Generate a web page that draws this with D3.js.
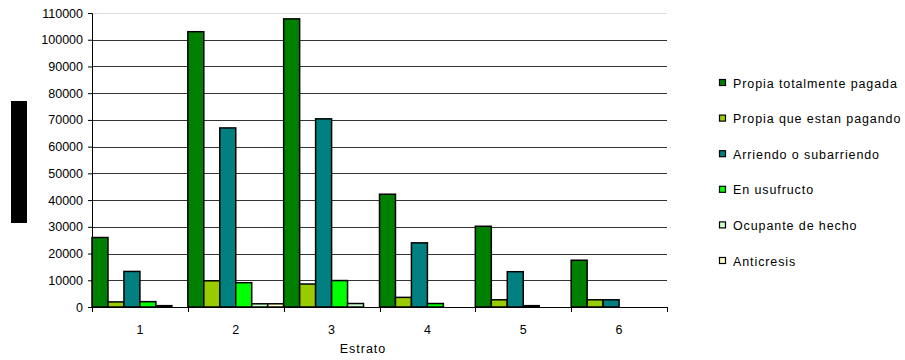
<!DOCTYPE html>
<html>
<head>
<meta charset="utf-8">
<script src="https://cdn.jsdelivr.net/npm/d3@7"></script>
<style>
  html, body { margin: 0; padding: 0; background: #fff; }
  text { font-family: "Liberation Sans", Arial, sans-serif; fill: #000; }
</style>
</head>
<body>
<svg id="chart" width="905" height="360"></svg>
<script>
// Housing tenure by socio-economic stratum
const estratos = ["1", "2", "3", "4", "5", "6"];
const seriesNames = [
  "Propia totalmente pagada",
  "Propia que estan pagando",
  "Arriendo o subarriendo",
  "En usufructo",
  "Ocupante de hecho",
  "Anticresis"
];
const propiaPagada   = [26000, 103000, 107800, 42200, 30200, 17500];
const propiaPagando  = [1900, 9800, 8600, 3600, 2700, 2700];
const arriendo       = [13300, 67000, 70400, 24000, 13200, 2700];
const usufructo      = [2000, 9100, 9900, 1300, 500, 0];
const ocupante       = [500, 1200, 1300, 0, 0, 0];
const anticresis     = [0, 1200, 0, 0, 0, 0];
const yTicks = d3.range(0, 110001, 10000);
const colors = ["#008000", "#99CC00", "#008080", "#00FF00", "#CCFFCC", "#FFFFCC"];

const seriesValues = [propiaPagada, propiaPagando, arriendo, usufructo, ocupante, anticresis];

const svg = d3.select("#chart");
const plot = { left: 92, right: 667, top: 13, bottom: 307 };

const x0 = d3.scaleBand().domain(estratos).range([plot.left, plot.right]).paddingInner(0).paddingOuter(0);
const x1 = d3.scaleBand().domain(seriesNames).range([0, x0.bandwidth()]).padding(0);
const y = d3.scaleLinear().domain([0, 110000]).range([plot.bottom, plot.top]);

// gridlines
svg.append("g").selectAll("line")
  .data(yTicks.filter(t => t > 0))
  .join("line")
  .attr("x1", plot.left).attr("x2", plot.right)
  .attr("y1", d => Math.round(y(d)) + 0.5).attr("y2", d => Math.round(y(d)) + 0.5)
  .attr("stroke", d => d === 110000 ? "#dddddd" : "#333")
  .attr("stroke-width", 1);

// bars
const groups = svg.append("g").selectAll("g")
  .data(estratos)
  .join("g")
  .attr("transform", d => `translate(${x0(d)},0)`);

groups.selectAll("rect")
  .data((d, i) => seriesNames.map((s, k) => ({ s, k, v: seriesValues[k][i] })).filter(e => e.v > 0))
  .join("rect")
  .attr("x", d => x1(d.s))
  .attr("width", x1.bandwidth())
  .attr("y", d => y(d.v))
  .attr("height", d => y(0) - y(d.v))
  .attr("fill", d => colors[d.k])
  .attr("stroke", "#000")
  .attr("stroke-width", 1.5);

// y axis
const yAxis = d3.axisLeft(y).tickValues(yTicks).tickSize(4).tickFormat(d3.format("d"));
const gy = svg.append("g").attr("transform", `translate(${plot.left},0)`).call(yAxis);
gy.select(".domain").attr("stroke", "#000");
gy.selectAll(".tick line").attr("stroke", "#000");
gy.selectAll(".tick text").attr("x", -9).style("font-size", "12.5px").style("font-family", "Liberation Sans, Arial, sans-serif").attr("fill", "#000");

// x axis with ticks on category boundaries
const gx = svg.append("g").attr("transform", `translate(0,${plot.bottom})`);
gx.append("line").attr("x1", plot.left).attr("x2", plot.right).attr("y1", 0.5).attr("y2", 0.5).attr("stroke", "#000");
gx.selectAll("line.b")
  .data(estratos.map(d => x0(d)).concat([plot.right]))
  .join("line").attr("class", "b")
  .attr("x1", d => Math.round(d) + 0.5).attr("x2", d => Math.round(d) + 0.5)
  .attr("y1", 0).attr("y2", 5).attr("stroke", "#000");
gx.selectAll("text")
  .data(estratos)
  .join("text")
  .attr("x", d => x0(d) + x0.bandwidth() / 2)
  .attr("y", 27)
  .attr("text-anchor", "middle")
  .style("font-size", "12.5px")
  .text(d => d);

svg.append("text")
  .attr("x", 363).attr("y", 353)
  .attr("text-anchor", "middle")
  .style("font-size", "12.5px")
  .style("letter-spacing", "1px")
  .text("Estrato");

// y-axis title block
svg.append("rect").attr("x", 11).attr("y", 101).attr("width", 16).attr("height", 122).attr("fill", "#000");

// legend
const legend = svg.append("g").selectAll("g")
  .data(seriesNames)
  .join("g")
  .attr("transform", (d, i) => `translate(719, ${83 + i * 35.6})`);
legend.append("rect")
  .attr("x", 0.5).attr("y", -3.5).attr("width", 6).attr("height", 6)
  .attr("fill", (d, i) => colors[i]).attr("stroke", "#000").attr("stroke-width", 1.2);
legend.append("text")
  .attr("x", 14).attr("y", 4.5)
  .style("font-size", "12.5px")
  .style("letter-spacing", "0.9px")
  .text(d => d);
</script>
</body>
</html>
